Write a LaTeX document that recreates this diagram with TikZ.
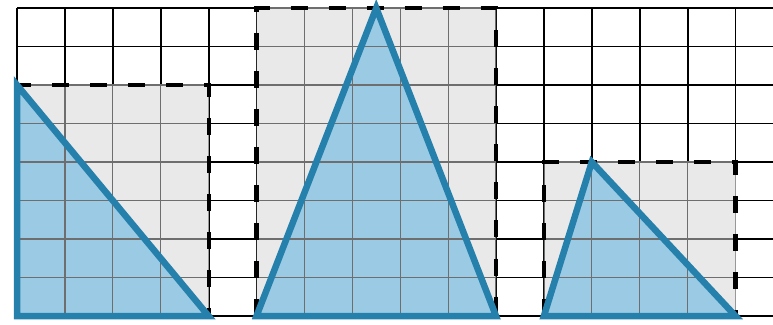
\documentclass[tikz,border=0pt]{standalone}
\definecolor{triblue}{RGB}{38,128,172}
\definecolor{trifill}{RGB}{155,203,228}
\definecolor{boxgray}{RGB}{233,233,233}
\definecolor{innergrid}{RGB}{110,110,110}
\tikzset{
  gridline/.style={black, line width=1.9pt},
  innerline/.style={innergrid, line width=1.2pt},
  boxfill/.style={fill=boxgray},
  trifillst/.style={fill=trifill},
  boxborder/.style={black, line width=4.2pt, dash pattern=on 17pt off 21pt},
  tristroke/.style={triblue, line width=6.5pt, line join=miter},
}
\begin{document}
\begin{tikzpicture}[x=47.9pt,y=38.5pt]
\path[use as bounding box] (0pt,0pt) rectangle (773pt,324pt);
\begin{scope}[shift={(17pt,8pt)}]
  % outer grid
  \foreach \i in {0,...,15} \draw[gridline] (\i,0) -- (\i,8);
  \foreach \j in {0,...,8} \draw[gridline] (0,\j) -- (15.8,\j);
  % box 1
  \coordinate (b1a) at (0,0); \coordinate (b1b) at (4,6);
  \coordinate (t1a) at (0,6); \coordinate (t1b) at (0,0); \coordinate (t1c) at (4,0);
  % box 2
  \coordinate (b2a) at (5,0); \coordinate (b2b) at (10,8);
  \coordinate (t2a) at (5,0); \coordinate (t2b) at (7.5,8); \coordinate (t2c) at (10,0);
  % box 3
  \coordinate (b3a) at (11,0); \coordinate (b3b) at (15,4);
  \coordinate (t3a) at (11,0); \coordinate (t3b) at (12,4); \coordinate (t3c) at (15,0);
  \foreach \n/\x/\y/\w/\h in {1/0/0/4/6, 2/5/0/5/8, 3/11/0/4/4}{
    \fill[boxfill] (b\n a) rectangle (b\n b);
    \fill[trifillst] (t\n a) -- (t\n b) -- (t\n c) -- cycle;
    \begin{scope}
      \clip (b\n a) rectangle (b\n b);
      \foreach \k in {0,...,\w} \draw[innerline] (\x+\k,\y) -- (\x+\k,\y+\h);
      \foreach \k in {0,...,\h} \draw[innerline] (\x,\y+\k) -- (\x+\w,\y+\k);
    \end{scope}
    \draw[boxborder] (b\n a) rectangle (b\n b);
  }
  \foreach \n in {1,2,3}
    \draw[tristroke] (t\n a) -- (t\n b) -- (t\n c) -- cycle;
\end{scope}
\end{tikzpicture}
\end{document}
